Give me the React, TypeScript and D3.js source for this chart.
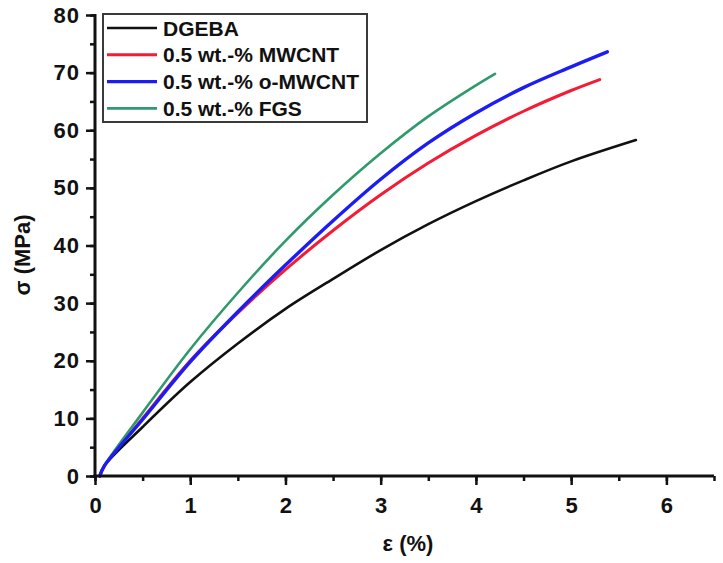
import { useEffect, useRef } from "react";
import * as d3 from "d3";

// strain (%) / stress (MPa) readings for each sample
const dgebaX = [0.05, 0.1, 0.5, 1, 1.5, 2, 2.5, 3, 3.5, 4, 4.5, 5, 5.68];
const dgebaY = [0, 1.8, 8.5, 16.3, 23, 29, 34.2, 39.2, 43.7, 47.7, 51.3, 54.6, 58.3];

const mwcntX = [0.05, 0.1, 0.5, 1, 1.5, 2, 2.5, 3, 3.5, 4, 4.5, 5, 5.3];
const mwcntY = [0, 1.8, 10, 20, 28.3, 35.8, 42.6, 48.8, 54.3, 59.1, 63.3, 66.9, 68.8];

const oMwcntX = [0.05, 0.1, 0.5, 1, 1.5, 2, 2.5, 3, 3.5, 4, 4.5, 5, 5.38];
const oMwcntY = [0, 1.8, 9.8, 19.8, 28.5, 36.6, 44.3, 51.5, 57.8, 63.0, 67.4, 71.0, 73.6];

const fgsX = [0.05, 0.1, 0.5, 1, 1.5, 2, 2.5, 3, 3.5, 4, 4.2];
const fgsY = [0, 1.8, 11, 22, 31.8, 40.8, 48.8, 56, 62.4, 67.8, 69.8];

const seriesNames = ["DGEBA", "0.5 wt.-% MWCNT", "0.5 wt.-% o-MWCNT", "0.5 wt.-% FGS"];
const seriesColors = ["#111111", "#f41c34", "#1c1cf4", "#2f9a6c"];
const seriesWidths = [2.6, 3, 3.4, 2.6];

const xTicks = [0, 1, 2, 3, 4, 5, 6];
const yTicks = [0, 10, 20, 30, 40, 50, 60, 70, 80];

const FONT = "'Liberation Sans', Arial, sans-serif";

export default function App() {
  const svgRef = useRef<SVGSVGElement>(null);

  useEffect(() => {
    const svg = d3.select(svgRef.current);
    svg.selectAll("*").remove();

    const x = d3.scaleLinear().domain([0, 6.5]).range([95, 714]);
    const y = d3.scaleLinear().domain([0, 80]).range([476, 15]);

    const series = [
      { x: dgebaX, y: dgebaY },
      { x: mwcntX, y: mwcntY },
      { x: oMwcntX, y: oMwcntY },
      { x: fgsX, y: fgsY },
    ].map((s, i) => ({
      pts: s.x.map((v, j) => [v, s.y[j]] as [number, number]),
      color: seriesColors[i],
      width: seriesWidths[i],
      name: seriesNames[i],
    }));

    const line = d3.line<[number, number]>()
      .x((p) => x(p[0]))
      .y((p) => y(p[1]))
      .curve(d3.curveCatmullRom.alpha(0.5));

    // draw order: black, red, green, blue on top
    [0, 1, 3, 2].forEach((i) => {
      svg.append("path")
        .datum(series[i].pts)
        .attr("d", line)
        .attr("fill", "none")
        .attr("stroke", series[i].color)
        .attr("stroke-width", series[i].width)
        .attr("stroke-linecap", "round");
    });

    // x axis
    svg.append("g").attr("transform", `translate(0,${y(0)})`)
      .call(d3.axisBottom(x).tickValues(d3.range(0, 6.51, 0.5)).tickSize(5).tickFormat(() => ""))
      .call((ax) => ax.select(".domain").remove())
      .call((ax) => ax.selectAll(".tick line").attr("stroke", "#111").attr("stroke-width", 2.5));
    svg.append("g").attr("transform", `translate(0,${y(0)})`)
      .call(d3.axisBottom(x).tickValues(xTicks).tickSize(9).tickPadding(12).tickFormat(d3.format("d")))
      .call((ax) => ax.select(".domain").remove())
      .call((ax) => ax.selectAll(".tick line").attr("stroke", "#111").attr("stroke-width", 2.5))
      .call((ax) => ax.selectAll(".tick text")
        .attr("fill", "#111").attr("font-size", 22).attr("font-weight", "bold").attr("font-family", FONT));
    svg.append("line")
      .attr("x1", x(0) - 1.5).attr("x2", x(6.5))
      .attr("y1", y(0)).attr("y2", y(0))
      .attr("stroke", "#111").attr("stroke-width", 3);

    // y axis
    svg.append("g").attr("transform", `translate(${x(0)},0)`)
      .call(d3.axisLeft(y).tickValues(d3.range(0, 80.1, 5)).tickSize(5).tickFormat(() => ""))
      .call((ax) => ax.select(".domain").remove())
      .call((ax) => ax.selectAll(".tick line").attr("stroke", "#111").attr("stroke-width", 2.5));
    svg.append("g").attr("transform", `translate(${x(0)},0)`)
      .call(d3.axisLeft(y).tickValues(yTicks).tickSize(9).tickPadding(6).tickFormat(d3.format("d")))
      .call((ax) => ax.select(".domain").remove())
      .call((ax) => ax.selectAll(".tick line").attr("stroke", "#111").attr("stroke-width", 2.5))
      .call((ax) => ax.selectAll(".tick text")
        .attr("fill", "#111").attr("font-size", 22).attr("font-weight", "bold").attr("font-family", FONT)
        .attr("letter-spacing", 1));
    svg.append("line")
      .attr("x1", x(0)).attr("x2", x(0))
      .attr("y1", y(0) + 1.5).attr("y2", y(80) - 1)
      .attr("stroke", "#111").attr("stroke-width", 3);

    // axis titles
    svg.append("text")
      .attr("x", 408).attr("y", 551)
      .attr("text-anchor", "middle")
      .attr("font-size", 22).attr("font-weight", "bold").attr("font-family", FONT).attr("fill", "#111")
      .text("ε (%)");
    svg.append("text")
      .attr("transform", "translate(30,255) rotate(-90)")
      .attr("text-anchor", "middle")
      .attr("font-size", 22).attr("font-weight", "bold").attr("font-family", FONT).attr("fill", "#111")
      .text("σ (MPa)");

    // legend
    const lg = svg.append("g");
    lg.append("rect")
      .attr("x", 103).attr("y", 14).attr("width", 264).attr("height", 108)
      .attr("fill", "white").attr("stroke", "#3a3a3a").attr("stroke-width", 2);
    series.forEach((s, i) => {
      const ry = 28 + i * 26.8;
      lg.append("line")
        .attr("x1", 107).attr("x2", 157).attr("y1", ry).attr("y2", ry)
        .attr("stroke", s.color).attr("stroke-width", s.width);
      lg.append("text")
        .attr("x", 163).attr("y", ry + 7.5)
        .attr("font-size", 21).attr("font-weight", "bold").attr("font-family", FONT).attr("fill", "#111")
        .text(s.name);
    });
  }, []);

  return (
    <div style={{ position: "absolute", left: 0, top: 0, width: 723, height: 563, background: "white" }}>
      <svg ref={svgRef} width={723} height={563} />
    </div>
  );
}
